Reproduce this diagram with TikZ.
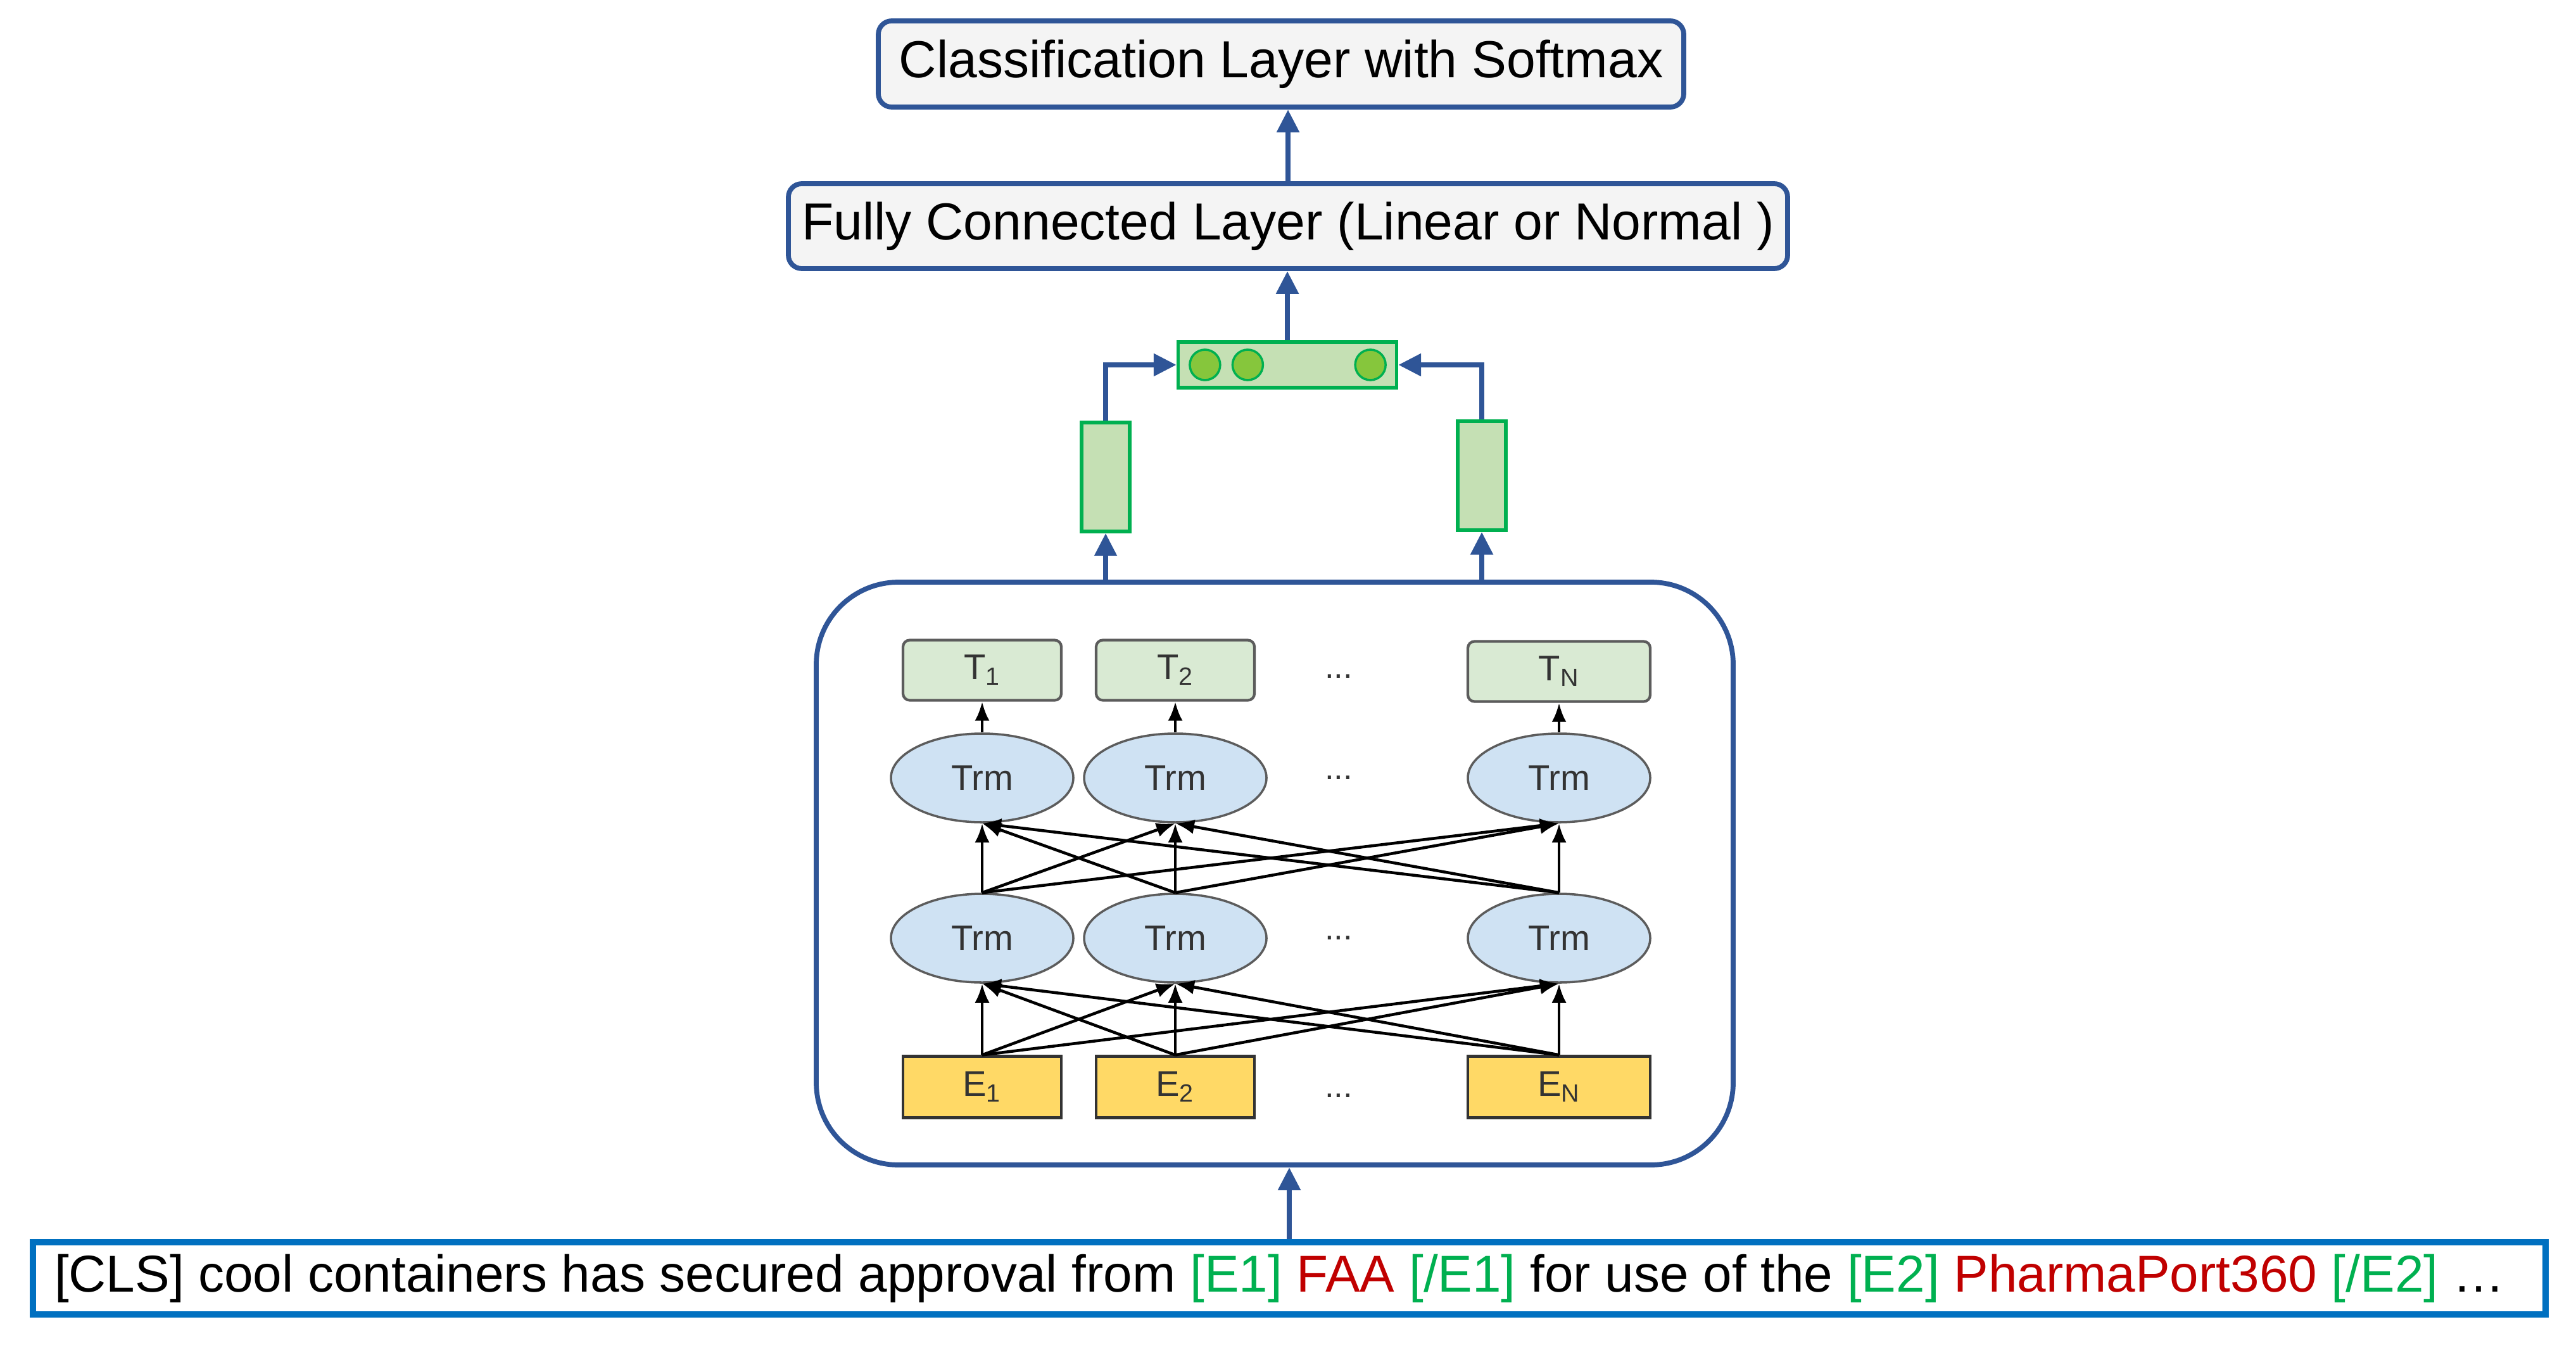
\documentclass[tikz,border=0pt]{standalone}
\usepackage{fontspec}
\setmainfont{Liberation Sans}
\usetikzlibrary{shapes.geometric, arrows.meta, positioning, calc}
\definecolor{cNavy}{RGB}{47,85,151}
\definecolor{cSent}{RGB}{0,112,192}
\definecolor{cGreen}{RGB}{0,176,80}
\definecolor{cRed}{RGB}{192,0,0}
\definecolor{cGrayBg}{RGB}{244,244,244}
\definecolor{cPool}{RGB}{197,224,180}
\definecolor{cDot}{RGB}{134,198,60}
\definecolor{cTok}{RGB}{217,234,211}
\definecolor{cTrm}{RGB}{207,226,243}
\definecolor{cEmb}{RGB}{255,217,102}
\definecolor{cInk}{RGB}{51,51,51}
\tikzset{
	headbox/.style ={rectangle, rounded corners=6pt, draw=cNavy, line width=2.2pt, fill=cGrayBg, align=center, inner sep=0pt, font=\fontsize{23.4}{28}\selectfont},
	vec/.style     ={rectangle, draw=cGreen, line width=1.5pt, fill=cPool, inner sep=0pt},
	unit/.style    ={circle, draw=cGreen, line width=1pt, fill=cDot, minimum size=0.48cm, inner sep=0pt},
	sig/.style     ={-{Triangle[length=3.6mm, width=3.4mm]}, draw=cNavy, line width=2.4pt},
	% BERT block
	tok/.style     ={rectangle, rounded corners=3pt, draw=cInk!80, line width=1.2pt, fill=cTok, minimum height=0.95cm, text=cInk, font=\fontsize{16}{19}\selectfont},
	emb/.style     ={rectangle, draw=cInk, line width=1.2pt, fill=cEmb, minimum height=0.97cm, text=cInk, font=\fontsize{16}{19}\selectfont},
	trm/.style     ={ellipse, draw=cInk!80, line width=1pt, fill=cTrm, minimum width=2.88cm, minimum height=1.4cm, inner sep=0pt, text=cInk, font=\fontsize{16}{19}\selectfont},
	link/.style    ={-{Latex[length=3mm, width=2.3mm]}, line width=1.3pt, black},
	gap/.style     ={text=cInk, font=\fontsize{15}{18}\selectfont},
}
\begin{document}
\begin{tikzpicture}
	\useasboundingbox (0,0) rectangle (40.68,-21.28);
	% head
	\node[headbox, minimum width=12.72cm, minimum height=1.36cm] (cls) at (20.23,-1.01) {Classification Layer with Softmax};
	\node[headbox, minimum width=15.78cm, minimum height=1.34cm] (fc) at (20.34,-3.57) {Fully Connected Layer (Linear or Normal )};
	\node[vec, minimum width=3.45cm, minimum height=0.72cm] (pool) at (20.33,-5.76) {};
	\node[unit] (u1) at ($(pool.west)+(0.45,0)$) {};
	\node[unit, right=0.16cm of u1] (u2) {};
	\node[unit] (u3) at ($(pool.east)+(-0.44,0)$) {};
	\node[vec, minimum width=0.76cm, minimum height=1.72cm] (hl) at (17.46,-7.53) {};
	\node[vec, minimum width=0.76cm, minimum height=1.72cm] (hr) at (23.40,-7.51) {};
	% BERT
	\node[draw=cNavy, line width=2.2pt, rounded corners=1.3cm, minimum width=14.48cm, minimum height=9.2cm] (bert) at (20.13,-13.79) {};
	\node[emb, minimum width=2.5cm] (e1) at (15.51,-17.16) {E\textsubscript{1}};
	\node[emb, minimum width=2.5cm] (e2) at (18.56,-17.16) {E\textsubscript{2}};
	\node[emb, minimum width=2.88cm] (en) at (24.62,-17.16) {E\textsubscript{N}};
	\node[trm] (a1) at (15.51,-14.81) {Trm};
	\node[trm] (a2) at (18.56,-14.81) {Trm};
	\node[trm] (an) at (24.62,-14.81) {Trm};
	\node[trm] (b1) at (15.51,-12.28) {Trm};
	\node[trm] (b2) at (18.56,-12.28) {Trm};
	\node[trm] (bn) at (24.62,-12.28) {Trm};
	\node[tok, minimum width=2.5cm] (t1) at (15.51,-10.58) {T\textsubscript{1}};
	\node[tok, minimum width=2.5cm] (t2) at (18.56,-10.58) {T\textsubscript{2}};
	\node[tok, minimum width=2.88cm] (tn) at (24.62,-10.60) {T\textsubscript{N}};
	\node[gap] (d1) at (21.14,-10.68) {...};
	\node[gap] (d2) at (21.14,-12.28) {...};
	\node[gap] (d3) at (21.14,-14.81) {...};
	\node[gap] (d4) at (21.14,-17.3) {...};
	\draw[link] (e1.north) -- (a1.south);
	\draw[link] (e1.north) -- (a2.south);
	\draw[link] (e1.north) -- (an.south);
	\draw[link] (e2.north) -- (a1.south);
	\draw[link] (e2.north) -- (a2.south);
	\draw[link] (e2.north) -- (an.south);
	\draw[link] (en.north) -- (a1.south);
	\draw[link] (en.north) -- (a2.south);
	\draw[link] (en.north) -- (an.south);
	\draw[link] (a1.north) -- (b1.south);
	\draw[link] (a1.north) -- (b2.south);
	\draw[link] (a1.north) -- (bn.south);
	\draw[link] (a2.north) -- (b1.south);
	\draw[link] (a2.north) -- (b2.south);
	\draw[link] (a2.north) -- (bn.south);
	\draw[link] (an.north) -- (b1.south);
	\draw[link] (an.north) -- (b2.south);
	\draw[link] (an.north) -- (bn.south);
	\draw[link] (b1.north) -- (t1.south);
	\draw[link] (b2.north) -- (t2.south);
	\draw[link] (bn.north) -- (tn.south);
	% input sentence
	\node[draw=cSent, line width=2.6pt, inner xsep=0.34cm, inner ysep=0pt, minimum height=1.14cm, font=\fontsize{23.3}{28}\selectfont] (sent) at (20.36,-20.18) {\makebox[39.0cm][l]{[CLS] cool containers has secured approval from \textcolor{cGreen}{[E1]} \textcolor{cRed}{FAA} \textcolor{cGreen}{[/E1]} for use of the \textcolor{cGreen}{[E2]} \textcolor{cRed}{PharmaPort360} \textcolor{cGreen}{[/E2]} …}};
	% flow
	\draw[sig] (sent.north) -- (sent.north |- bert.south);
	\draw[sig] (bert.north -| hl) -- (hl.south);
	\draw[sig] (bert.north -| hr) -- (hr.south);
	\draw[sig] (hl.north) |- (pool.west);
	\draw[sig] (hr.north) |- (pool.east);
	\draw[sig] (pool.north) -- (pool.north |- fc.south);
	\draw[sig] (fc.north) -- (fc.north |- cls.south);
\end{tikzpicture}
\end{document}
